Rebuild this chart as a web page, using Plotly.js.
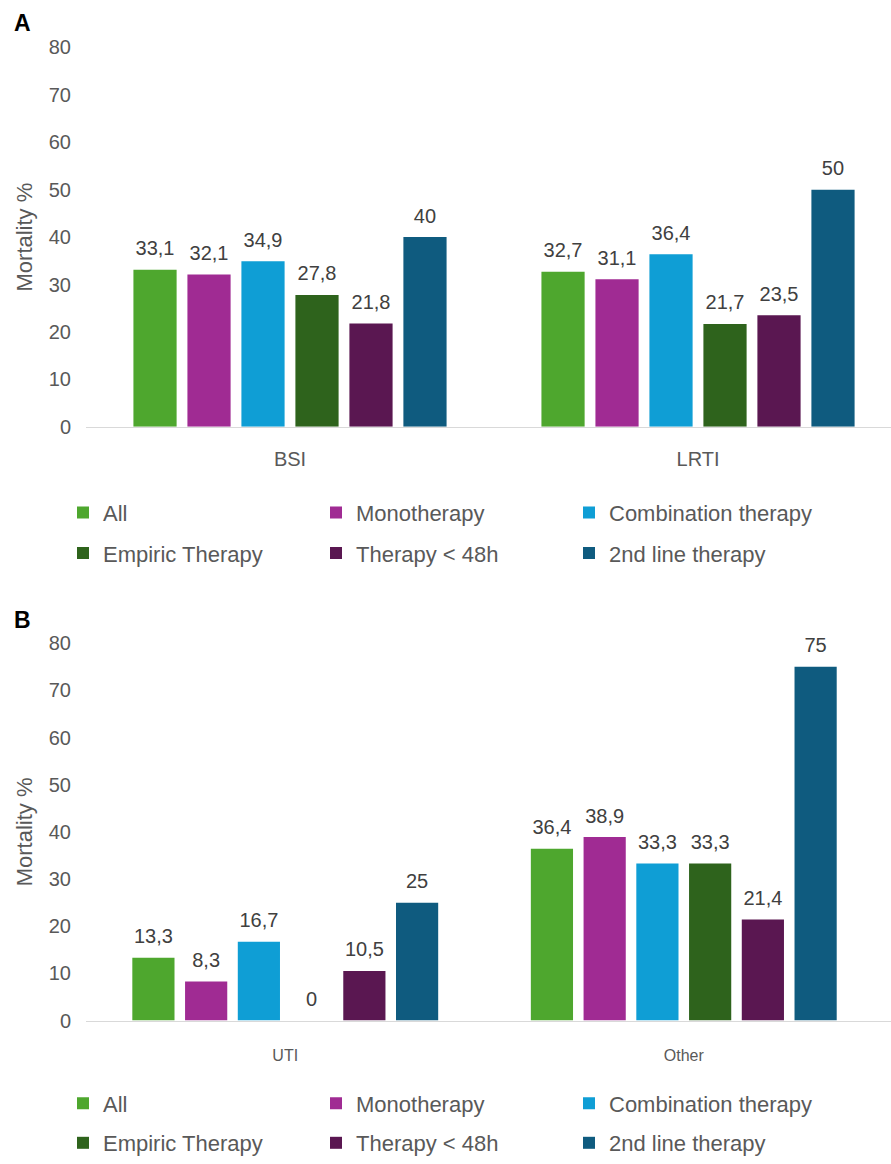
<!DOCTYPE html>
<html>
<head>
<meta charset="utf-8">
<script src="https://cdn.plot.ly/plotly-3.0.1.min.js"></script>
<style>html,body{margin:0;padding:0;background:#fff;}</style>
</head>
<body>
<div id="chart" style="width:891px;height:1164px;"></div>
<script>
// ---- data ----
const seriesNames = ['All', 'Monotherapy', 'Combination therapy', 'Empiric Therapy', 'Therapy < 48h', '2nd line therapy'];
const seriesColors = ['#4ea72e', '#a02b93', '#0f9ed5', '#2e631c', '#5a1751', '#0f5b7f'];

const categoriesA = ['BSI', 'LRTI'];
const allA = [33.1, 32.7];
const monoA = [32.1, 31.1];
const combA = [34.9, 36.4];
const empiricA = [27.8, 21.7];
const under48A = [21.8, 23.5];
const secondA = [40, 50];

const categoriesB = ['UTI', 'Other'];
const allB = [13.3, 36.4];
const monoB = [8.3, 38.9];
const combB = [16.7, 33.3];
const empiricB = [0, 33.3];
const under48B = [10.5, 21.4];
const secondB = [25, 75];

const yTicks = [0, 10, 20, 30, 40, 50, 60, 70, 80];

const panelA = [allA, monoA, combA, empiricA, under48A, secondA];
const panelB = [allB, monoB, combB, empiricB, under48B, secondB];

// ---- styles ----
const FONT = 'Liberation Sans, Arial, sans-serif';
const GRAY = '#595959';
const LABEL_GAP = 1.6; // data units between bar top and label box

function fmt(v) { return String(v).replace('.', ','); }

const traces = [];
function addPanel(cats, data, xa, ya, legRow1, legRow2, tag) {
  data.forEach((vals, i) => {
    traces.push({
      type: 'bar', x: cats, y: vals, name: seriesNames[i],
      xaxis: xa, yaxis: ya,
      offsetgroup: 'g' + i,
      marker: { color: seriesColors[i] },
      legend: i < 3 ? legRow1 : legRow2,
      legendgroup: tag + i,
      hoverinfo: 'x+y+name'
    });
    // value labels (transparent overlay lifted slightly above the bar)
    traces.push({
      type: 'bar', x: cats, y: vals, base: LABEL_GAP, name: seriesNames[i],
      xaxis: xa, yaxis: ya,
      offsetgroup: 'g' + i,
      marker: { color: 'rgba(0,0,0,0)' },
      text: vals.map(fmt), textposition: 'outside', cliponaxis: false,
      textfont: { family: FONT, size: 20, color: '#404040' },
      showlegend: false, hoverinfo: 'skip'
    });
  });
}
addPanel(categoriesA, panelA, 'x', 'y', 'legend', 'legend2', 'A');
addPanel(categoriesB, panelB, 'x2', 'y2', 'legend3', 'legend4', 'B');

const W = 891, H = 1164;
const px = v => v / W;
const py = v => (H - v) / H;

function yax(domain) {
  return {
    domain: domain, range: [0, 80], autorange: false,
    tickvals: yTicks, showgrid: false, zeroline: false, showline: false,
    ticks: '', ticklabelstandoff: 14,
    tickfont: { family: FONT, size: 20, color: GRAY },
    title: { text: 'Mortality %', font: { family: FONT, size: 22, color: GRAY }, standoff: 10 },
    fixedrange: true
  };
}
function xax(range, anchor, size, standoff) {
  return {
    domain: [px(86), 1], range: range, autorange: false, type: 'category',
    anchor: anchor, showline: true, linecolor: '#d9d9d9', linewidth: 1.2,
    showgrid: false, zeroline: false, ticks: '', ticklabelstandoff: standoff,
    tickfont: { family: FONT, size: size, color: GRAY },
    fixedrange: true
  };
}
function leg(x, y) {
  return {
    orientation: 'h', x: x, y: y, xanchor: 'left', yanchor: 'middle',
    entrywidth: 208, entrywidthmode: 'pixels',
    font: { family: FONT, size: 22, color: GRAY },
    bgcolor: 'rgba(0,0,0,0)', borderwidth: 0, traceorder: 'normal'
  };
}

const layout = {
  width: W, height: H,
  margin: { l: 0, r: 0, t: 0, b: 0 },
  paper_bgcolor: '#fff', plot_bgcolor: '#fff',
  barmode: 'group', bargap: 0.206, bargroupgap: 0.2,
  showlegend: true,
  xaxis: xax([-0.5, 1.473], 'y', 20, 14),
  yaxis: yax([py(432), py(48)]),
  xaxis2: xax([-0.5, 1.52], 'y2', 16, 20),
  yaxis2: Object.assign(yax([py(1033), py(651)]), { anchor: 'x2' }),
  legend: leg(px(63), py(519)),
  legend2: leg(px(63), py(560)),
  legend3: leg(px(63), py(1117)),
  legend4: leg(px(63), py(1157)),
  annotations: [
    { text: '<b>A</b>', x: px(12), y: py(23), xref: 'paper', yref: 'paper', xanchor: 'left', yanchor: 'middle', showarrow: false, font: { family: FONT, size: 23, color: '#000' } },
    { text: '<b>B</b>', x: px(12), y: py(628), xref: 'paper', yref: 'paper', xanchor: 'left', yanchor: 'middle', showarrow: false, font: { family: FONT, size: 23, color: '#000' } }
  ]
};

Plotly.newPlot('chart', traces, layout, { displayModeBar: false, staticPlot: true });
</script>
</body>
</html>
